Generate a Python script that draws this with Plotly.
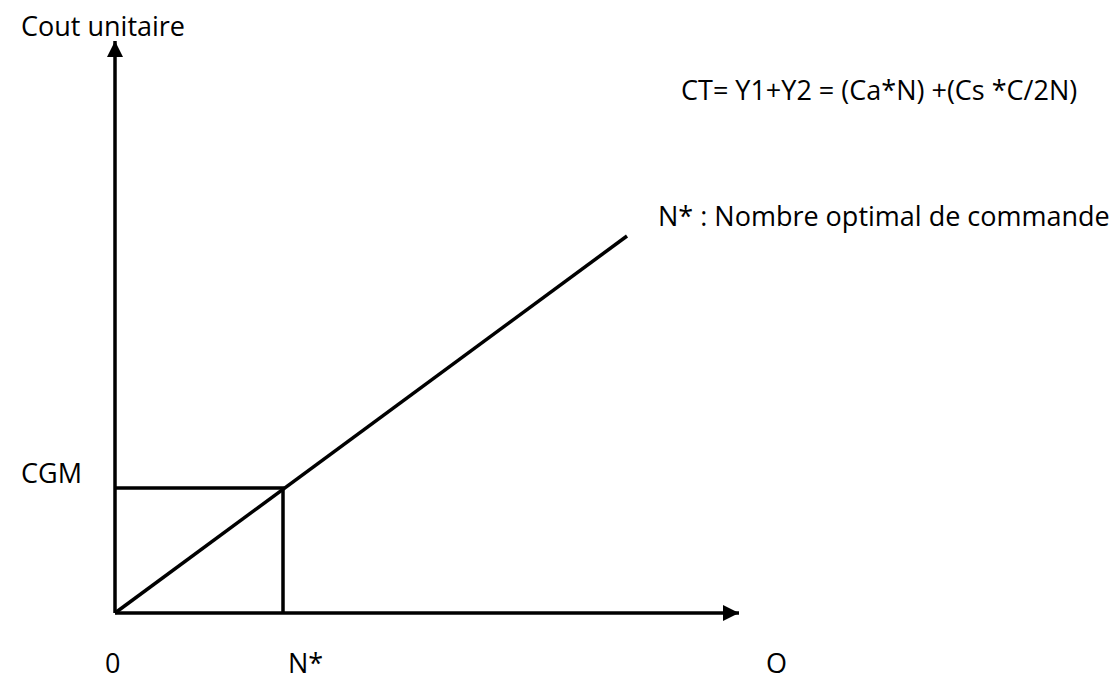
import plotly.graph_objects as go

# ---- data (diagram units: 1 unit ~ 1 px, origin at (0,0)) ----
axis_x_end = 624          # Q axis length
axis_y_end = 572          # cost axis length
n_star = 168              # N*
cgm = 125                 # CGM
ct_line_x = [0, 512]      # total cost line
ct_line_y = [0, 377]

x_labels = ["0", "N*", "Q"]
x_label_pos = [0, n_star, axis_x_end]
y_title = "Cout unitaire"
y_label = "CGM"
formula = "CT= Y1+Y2 = (Ca*N) +(Cs *C/2N)"
legend_text = "N* : Nombre optimal de commande"

FONT = "Open Sans"
FS = 27
LW = 3.5
BLACK = "#000000"

fig = go.Figure()

# axes
fig.add_trace(go.Scatter(x=[0, axis_x_end], y=[0, 0], mode="lines",
                         line=dict(color=BLACK, width=3.5), hoverinfo="skip"))
fig.add_trace(go.Scatter(x=[0, 0], y=[0, axis_y_end], mode="lines",
                         line=dict(color=BLACK, width=3.5), hoverinfo="skip"))
# arrow heads
fig.add_trace(go.Scatter(x=[axis_x_end], y=[0], mode="markers",
                         marker=dict(symbol="arrow-right", size=16, color=BLACK,
                                     line=dict(width=0)), hoverinfo="skip"))
fig.add_trace(go.Scatter(x=[0], y=[axis_y_end], mode="markers",
                         marker=dict(symbol="arrow-up", size=16, color=BLACK,
                                     line=dict(width=0)), hoverinfo="skip"))
# rectangle 0 - N* - CGM
fig.add_trace(go.Scatter(x=[0, n_star, n_star], y=[cgm, cgm, 0], mode="lines",
                         line=dict(color=BLACK, width=LW), hoverinfo="skip"))
# total cost line
fig.add_trace(go.Scatter(x=ct_line_x, y=ct_line_y, mode="lines",
                         line=dict(color=BLACK, width=LW), hoverinfo="skip"))

font = dict(family=FONT, size=FS, color=BLACK)
ann = []
ann.append(dict(x=-96, y=588, text=y_title, xanchor="left", yanchor="middle"))
ann.append(dict(x=-96, y=cgm + 16, text=y_label, xanchor="left", yanchor="middle"))
ann.append(dict(x=564, y=524, text=formula, xanchor="left", yanchor="middle"))
ann.append(dict(x=541, y=398, text=legend_text, xanchor="left", yanchor="middle"))
offsets = [-2.5, 22, 37]
for lab, pos, off in zip(x_labels, x_label_pos, offsets):
    ann.append(dict(x=pos + off, y=-49, text=lab, xanchor="center", yanchor="middle"))
for a in ann:
    a.update(xref="x", yref="y", showarrow=False, font=font)

fig.update_layout(
    width=1118, height=673,
    margin=dict(l=0, r=0, t=0, b=0),
    paper_bgcolor="white", plot_bgcolor="white",
    showlegend=False,
    xaxis=dict(range=[-107, 1011], visible=False, fixedrange=True),
    yaxis=dict(range=[-68, 605], visible=False, fixedrange=True),
    annotations=ann,
)

fig.write_html("out.html")
